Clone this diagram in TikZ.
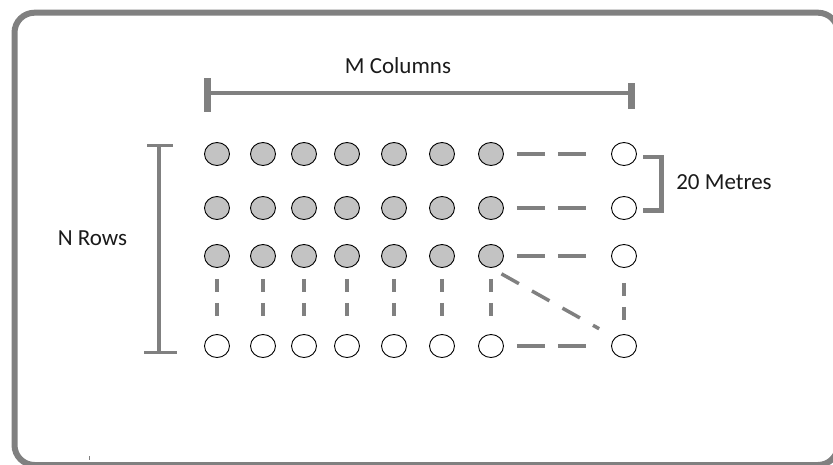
\documentclass[tikz,border=0pt]{standalone}
\usepackage{fontspec}
\setmainfont{Carlito}
\usetikzlibrary{shapes.geometric}
\definecolor{rule}{HTML}{808080}
\definecolor{plantfill}{HTML}{C3C3C3}
\definecolor{labelink}{HTML}{1A1A1A}
\begin{document}
\begin{tikzpicture}[x=1pt,y=-1pt,
  plot/.style={ellipse,draw=black,line width=0.9pt,minimum width=25pt,minimum height=23pt,inner sep=0pt},
  planted/.style={plot,fill=plantfill},
  vacant/.style={plot,fill=white},
  hlink/.style={draw=rule,line width=4pt,dash pattern=on 28pt off 13pt,shorten <=13pt,shorten >=25pt},
  vlink/.style={draw=rule,line width=4.5pt,dash pattern=on 13pt off 11pt,shorten <=11pt,shorten >=17pt},
  dlink/.style={draw=rule,line width=3.5pt,dash pattern=on 20pt off 15pt,shorten <=12pt,shorten >=18pt},
  measure/.style={draw=rule,line width=4pt},
  caption/.style={font=\fontsize{23}{27}\selectfont,text=labelink,inner sep=0pt,anchor=base}
]
\useasboundingbox (0,0) rectangle (833,464);
\clip (0,0) rectangle (833,464);

% outer frame
\draw[rule,line width=6pt,rounded corners=20pt] (14.5,12.7) rectangle (838,465);
\draw[rule,line width=1pt] (89,456) -- (89,460);

% grid of plots: columns 1-7 and the last column 8, rows 1-4
\foreach \c/\x in {1/217,2/263,3/304,4/347,5/394,6/442,7/491}{
  \foreach \r/\y in {1/154,2/208,3/256}{
    \node[planted] (c\c\r) at (\x,\y) {};
  }
  \node[vacant] (c\c4) at (\x,346) {};
  \draw[vlink] (c\c3.south) -- (c\c4.north);
}
\foreach \r/\y in {1/154,2/208,3/256,4/346}{
  \node[vacant] (c8\r) at (624,\y) {};
  \draw[hlink] (c7\r.east) -- (c8\r.west);
}
\draw[vlink,shorten <=15pt,shorten >=14pt] (c83.south) -- (c84.north);
\draw[dlink] (c73.south) -- (c84.north west);

% column measure
\draw[measure] (207,92.7) -- (631,92.7);
\draw[rule,line width=7pt] (207,78) -- (207,112);
\draw[rule,line width=7pt] (631,83) -- (631,109);
\node[caption] (mcol) at (398,73.3) {M Columns};

% row measure
\draw[measure] (159,145) -- (159,352);
\draw[rule,line width=3pt] (147,145) -- (173,145);
\draw[rule,line width=3pt] (144,352) -- (177,352);
\node[caption] (nrow) at (92.5,245) {N Rows};

% spacing bracket
\draw[rule,line width=4.5pt] (643,157) -- (661.5,157) -- (661.5,210.5) -- (643,210.5);
\node[caption] (space) at (724,189) {20 Metres};
\end{tikzpicture}
\end{document}
